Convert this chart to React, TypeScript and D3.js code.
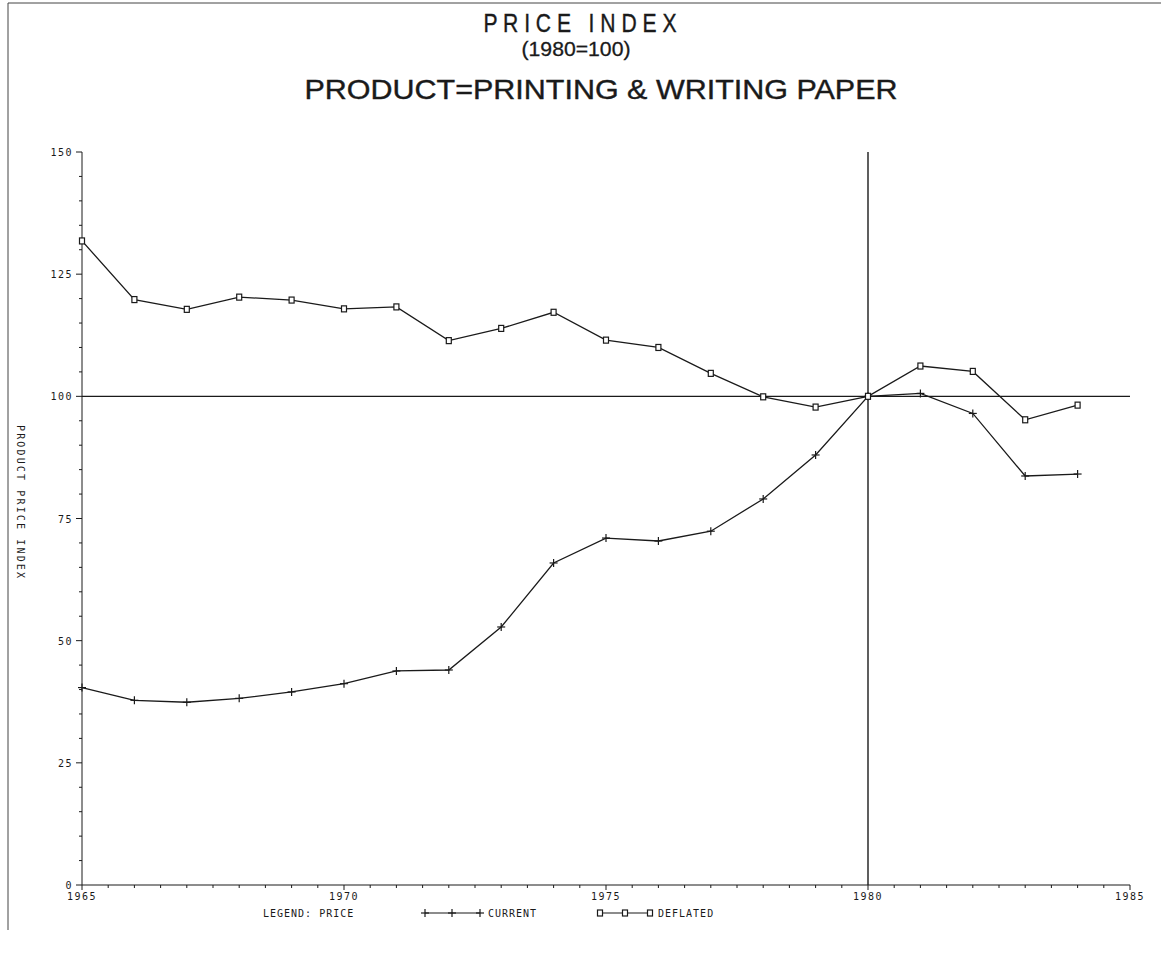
import React from "react";
import * as d3 from "d3";

const years = [1965, 1966, 1967, 1968, 1969, 1970, 1971, 1972, 1973, 1974, 1975, 1976, 1977, 1978, 1979, 1980, 1981, 1982, 1983, 1984];
const current = [40.4, 37.8, 37.4, 38.2, 39.5, 41.2, 43.8, 44.0, 52.8, 65.9, 71.0, 70.4, 72.4, 79.0, 88.0, 100, 100.6, 96.5, 83.7, 84.1];
const deflated = [131.8, 119.8, 117.8, 120.3, 119.7, 117.9, 118.3, 111.4, 113.9, 117.2, 111.5, 110.0, 104.7, 99.9, 97.8, 100, 106.2, 105.1, 95.2, 98.2];
const yTicks = [0, 25, 50, 75, 100, 125, 150];
const xTicks = [1965, 1970, 1975, 1980, 1985];
const titleLines = ["P R I C E   I N D E X", "(1980=100)", "PRODUCT=PRINTING & WRITING PAPER"];
const yLabel = "PRODUCT PRICE INDEX";
const legendTitle = "LEGEND: PRICE";
const seriesNames = ["CURRENT", "DEFLATED"];

const INK = "#1a1a1a";
const MONO = "'DejaVu Sans Mono', 'Liberation Mono', monospace";
const SANS = "'Liberation Sans', Arial, sans-serif";

export default function App() {
  const W = 1161, H = 968;
  const x = d3.scaleLinear().domain([1965, 1985]).range([82, 1130]);
  const y = d3.scaleLinear().domain([0, 150]).range([885, 152]);
  const line = d3.line<number>().x((_, i) => x(years[i])).y((v) => y(v));
  const yMinor = d3.range(0, 151, 5).filter((v) => v % 25 !== 0);
  const xMinor = d3.range(1965, 1985.01, 0.5).filter((v) => v % 5 !== 0);

  const plus = (cx: number, cy: number, k: string) => (
    <g key={k} stroke={INK} strokeWidth={1.2}>
      <line x1={cx - 4} x2={cx + 4} y1={cy} y2={cy} />
      <line x1={cx} x2={cx} y1={cy - 4} y2={cy + 4} />
    </g>
  );
  const square = (cx: number, cy: number, k: string) => (
    <rect key={k} x={cx - 2.5} y={cy - 3} width={5} height={6} fill="white" stroke={INK} strokeWidth={1.2} />
  );

  return (
    <svg width={W} height={H} style={{ position: "absolute", left: 0, top: 0, background: "white" }}>
      {/* frame */}
      <line x1={8} x2={1161} y1={3} y2={3} stroke="#444" strokeWidth={1} />
      <line x1={8} x2={8} y1={3} y2={930} stroke="#444" strokeWidth={1} />

      {/* titles */}
      <text x={580} y={32} textAnchor="middle" fontFamily={SANS} fontSize={26} fill={INK} stroke={INK} strokeWidth={0.4} style={{ whiteSpace: "pre" }} textLength={193} lengthAdjust="spacingAndGlyphs">{titleLines[0]}</text>
      <text x={576} y={56} textAnchor="middle" fontFamily={SANS} fontSize={20} fill={INK} stroke={INK} strokeWidth={0.3} textLength={109} lengthAdjust="spacingAndGlyphs">{titleLines[1]}</text>
      <text x={601} y={99} textAnchor="middle" fontFamily={SANS} fontSize={28} fill={INK} stroke={INK} strokeWidth={0.4} textLength={593} lengthAdjust="spacingAndGlyphs">{titleLines[2]}</text>

      {/* y axis */}
      <line x1={x(1965)} x2={x(1965)} y1={y(150)} y2={y(0)} stroke={INK} strokeWidth={1} />
      {yTicks.map((t) => (
        <g key={"yt" + t}>
          <line x1={x(1965) - 6} x2={x(1965)} y1={y(t)} y2={y(t)} stroke={INK} strokeWidth={1} />
          <text x={x(1965) - 9} y={y(t) + 4} textAnchor="end" fontFamily={MONO} fontSize={10} letterSpacing={1.5} fill={INK}>{t}</text>
        </g>
      ))}
      {yMinor.map((t) => (
        <line key={"ym" + t} x1={x(1965) - 3} x2={x(1965)} y1={y(t)} y2={y(t)} stroke={INK} strokeWidth={1} />
      ))}
      <text transform={`translate(17,${(425 + 578) / 2}) rotate(90)`} textAnchor="middle" fontFamily={MONO} fontSize={10} fill={INK} style={{ whiteSpace: "pre" }} textLength={153} lengthAdjust="spacing">{yLabel}</text>

      {/* x axis */}
      <line x1={x(1965)} x2={x(1985)} y1={y(0)} y2={y(0)} stroke={INK} strokeWidth={1} />
      {xTicks.map((t) => (
        <g key={"xt" + t}>
          <line x1={x(t)} x2={x(t)} y1={y(0)} y2={y(0) + 5} stroke={INK} strokeWidth={1} />
          <text x={x(t)} y={y(0) + 15} textAnchor="middle" fontFamily={MONO} fontSize={10} letterSpacing={1.5} fill={INK}>{t}</text>
        </g>
      ))}
      {xMinor.map((t) => (
        <line key={"xm" + t} x1={x(t)} x2={x(t)} y1={y(0)} y2={y(0) + 3} stroke={INK} strokeWidth={1} />
      ))}

      {/* reference lines */}
      <line x1={x(1965)} x2={x(1985)} y1={y(100)} y2={y(100)} stroke={INK} strokeWidth={1.4} />
      <line x1={x(1980)} x2={x(1980)} y1={y(150)} y2={y(0)} stroke={INK} strokeWidth={1.4} />

      {/* series */}
      <path d={line(current) || ""} fill="none" stroke={INK} strokeWidth={1.3} />
      <path d={line(deflated) || ""} fill="none" stroke={INK} strokeWidth={1.3} />
      {current.map((v, i) => plus(x(years[i]), y(v), "c" + i))}
      {deflated.map((v, i) => square(x(years[i]), y(v), "d" + i))}

      {/* legend */}
      <text x={263} y={917} fontFamily={MONO} fontSize={10} letterSpacing={1} fill={INK} style={{ whiteSpace: "pre" }}>{legendTitle}</text>
      <line x1={425} x2={480} y1={913} y2={913} stroke={INK} strokeWidth={1.2} />
      {[425, 452, 480].map((px, i) => plus(px, 913, "lc" + i))}
      <text x={488} y={917} fontFamily={MONO} fontSize={10} letterSpacing={1} fill={INK}>{seriesNames[0]}</text>
      <line x1={600} x2={650} y1={913} y2={913} stroke={INK} strokeWidth={1.2} />
      {[600, 625, 650].map((px, i) => square(px, 913, "ld" + i))}
      <text x={658} y={917} fontFamily={MONO} fontSize={10} letterSpacing={1} fill={INK}>{seriesNames[1]}</text>
    </svg>
  );
}
